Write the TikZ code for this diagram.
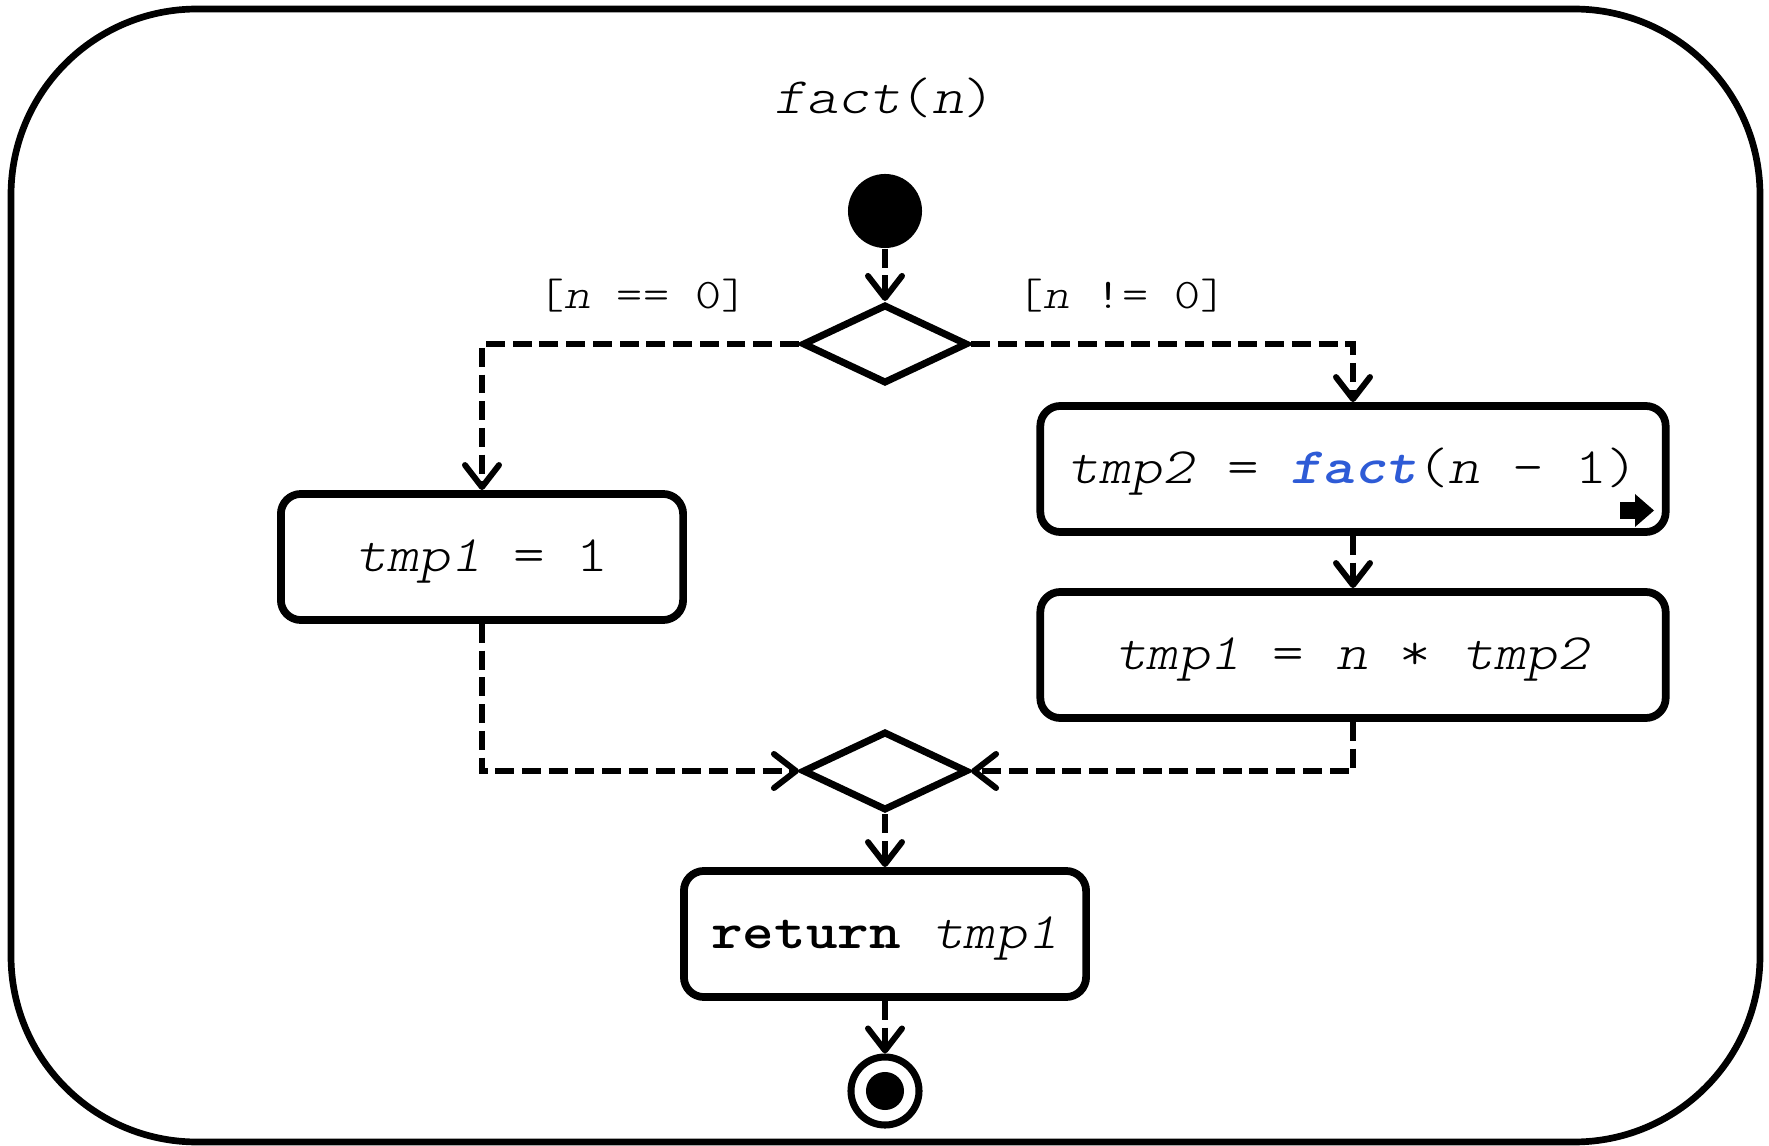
\documentclass[tikz,border=0pt]{standalone}
\usepackage{fontspec}
\newfontfamily\cour{lmmonolt10-regular.otf}[ItalicFont=lmmonolt10-oblique.otf, BoldFont=lmmonolt10-bold.otf, BoldItalicFont=lmmonolt10-boldoblique.otf, FakeStretch=1.18]
\usetikzlibrary{arrows.meta,shapes.geometric}
\definecolor{callblue}{RGB}{46,91,214}
\begin{document}
\begin{tikzpicture}[x=0.01cm,y=-0.01cm,
  actbox/.style={draw, line width=2.2pt, rounded corners=0.2cm, minimum width=4.02cm, minimum height=1.26cm, inner sep=0pt, text height=11pt, text depth=2.5pt, font=\cour\fontsize{14.5}{17}\selectfont},
  decision/.style={draw, diamond, line width=2pt, minimum width=1.65cm, minimum height=0.79cm, inner sep=0pt},
  flow/.style={line width=1.5pt, dash pattern=on 5.4pt off 2.2pt, -{Straight Barb[round, length=0.22cm, width=0.34cm, line width=1.7pt]}},
  guard/.style={font=\cour\fontsize{12}{14}\selectfont},
]
\useasboundingbox (0,0) rectangle (1769,1146);
\draw[line width=1.9pt, rounded corners=1.86cm] (11,9) rectangle (1760,1142);

\node[font=\cour\fontsize{14.5}{17}\selectfont] (title) at (885,98) {\textit{fact}(\textit{n})};
\node[circle, fill, minimum size=0.74cm, inner sep=0pt] (init) at (885,211) {};
\node[decision] (d1) at (885,344) {};
\node[actbox] (a1) at (482,557) {\textit{tmp1} = 1};
\node[actbox, minimum width=6.25cm] (a2) at (1353,469) {\textit{tmp2} = \textcolor{callblue}{\textbf{\textit{fact}}}(\textit{n} - 1)};
\node[actbox, minimum width=6.25cm] (a3) at (1353,655) {\textit{tmp1} = \textit{n} * \textit{tmp2}};
\node[decision] (d2) at (885,771) {};
\node[actbox] (ret) at (885,934) {\textbf{return} \textit{tmp1}};
\node[circle, draw, line width=2pt, minimum size=0.68cm, inner sep=0pt] (final) at (885,1091) {};
\node[circle, fill, minimum size=0.38cm, inner sep=0pt] (finaldot) at (final.center) {};

\node[guard] (g0) at (643,296) {[\textit{n} == 0]};
\node[guard] (g1) at (1122,296) {[\textit{n} != 0]};

% call behaviour icon
\fill (1620,502) rectangle (1637,519);
\fill (1635,494) -- (1654,510.5) -- (1635,527) -- cycle;

\draw[flow] (init) -- (d1);
\draw[flow] (d1.west) -| (a1.north);
\draw[flow] (d1.east) -| (a2.north);
\draw[flow] (a2) -- (a3);
\draw[flow] (a1.south) |- (d2.west);
\draw[flow] (a3.south) |- (d2.east);
\draw[flow] (d2) -- (ret);
\draw[flow] (ret) -- (final);
\end{tikzpicture}
\end{document}
